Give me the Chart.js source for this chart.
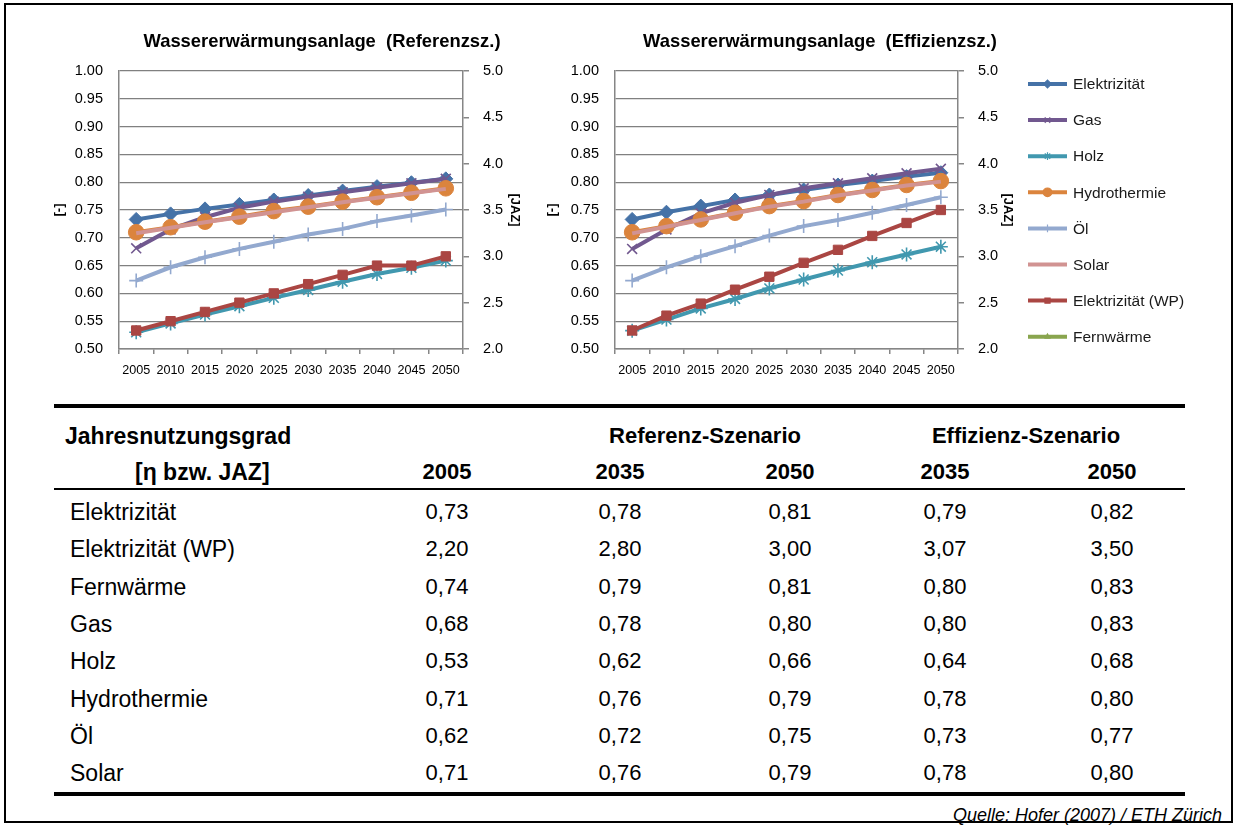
<!DOCTYPE html>
<html lang="de">
<head>
<meta charset="utf-8">
<title>Wassererwärmungsanlage – Jahresnutzungsgrad</title>
<script src="https://cdn.jsdelivr.net/npm/chart.js@4.4.1/dist/chart.umd.min.js"></script>
<style>
  html, body { margin: 0; padding: 0; background: #fff; }
  body {
    width: 1235px; height: 825px; position: relative; overflow: hidden;
    font-family: Arial, "Liberation Sans", sans-serif; color: #000;
  }
  .frame {
    position: absolute; left: 4px; top: 3px; right: 2px; bottom: 2px;
    border: 2px solid #000; box-sizing: border-box;
  }
  canvas { position: absolute; top: 0; }
  #refChart { left: 0; }
  #effChart { left: 520px; }
  .rule { position: absolute; left: 54px; width: 1131px; background: #000; }
  .cell { position: absolute; white-space: nowrap; line-height: 1; transform: translateY(-50%); }
  .head { font-weight: bold; font-size: 23px; }
  .val { font-size: 22px; width: 120px; text-align: center; }
  .yr { font-size: 22px; }
  .name { font-size: 23px; }
  .source {
    position: absolute; right: 13px; top: 805px; font-size: 18px; font-style: italic;
  }
</style>
</head>
<body>
<div class="frame"></div>
<canvas id="refChart" width="620" height="389"></canvas>
<canvas id="effChart" width="715" height="389"></canvas>
<div id="table"></div>
<div class="source">Quelle: Hofer (2007) / ETH Zürich</div>

<script>
// categories
const years = ['2005', '2010', '2015', '2020', '2025', '2030', '2035', '2040', '2045', '2050'];

const seriesNames = ['Elektrizität', 'Gas', 'Holz', 'Hydrothermie', 'Öl', 'Solar', 'Elektrizität (WP)', 'Fernwärme'];
const seriesColors = ['#4572A7', '#71588F', '#4198AF', '#DB843D', '#93A9CF', '#D19392', '#AA4643', '#89A54E'];
const seriesMarkers = ['rectRot', 'crossRot', 'star', 'circle', 'cross', 'circle', 'rect', 'triangle'];
const markerSizes = [7, 7, 7, 7.8, 7, 0, 6.6, 5];

// Referenz-Szenario, WP on the JAZ axis
const refElektrizitaet = [0.733, 0.743, 0.752, 0.760, 0.768, 0.776, 0.784, 0.792, 0.799, 0.806];
const refGas = [0.681, 0.715, 0.737, 0.754, 0.765, 0.774, 0.782, 0.790, 0.798, 0.806];
const refHolz = [0.530, 0.546, 0.562, 0.577, 0.592, 0.606, 0.621, 0.635, 0.646, 0.659];
const refHydrothermie = [0.710, 0.719, 0.729, 0.738, 0.748, 0.756, 0.765, 0.773, 0.781, 0.789];
const refOel = [0.623, 0.647, 0.665, 0.680, 0.693, 0.706, 0.716, 0.730, 0.740, 0.751];
const refSolar = [0.708, 0.718, 0.728, 0.737, 0.746, 0.755, 0.764, 0.772, 0.780, 0.788];
const refWP = [2.20, 2.30, 2.40, 2.50, 2.60, 2.70, 2.80, 2.90, 2.90, 3.00];
const refFernwaerme = [];

// Effizienz-Szenario (right chart)
const effElektrizitaet = [0.733, 0.746, 0.757, 0.768, 0.777, 0.786, 0.795, 0.802, 0.810, 0.817];
const effGas = [0.680, 0.715, 0.744, 0.763, 0.777, 0.789, 0.798, 0.807, 0.816, 0.824];
const effHolz = [0.533, 0.553, 0.573, 0.590, 0.609, 0.625, 0.641, 0.656, 0.670, 0.684];
const effHydrothermie = [0.710, 0.721, 0.733, 0.745, 0.757, 0.766, 0.777, 0.786, 0.795, 0.802];
const effOel = [0.623, 0.647, 0.667, 0.685, 0.704, 0.721, 0.732, 0.745, 0.759, 0.773];
const effSolar = [0.708, 0.720, 0.732, 0.744, 0.756, 0.765, 0.776, 0.785, 0.794, 0.801];
const effWP = [2.20, 2.36, 2.49, 2.64, 2.78, 2.93, 3.07, 3.22, 3.36, 3.50];
const effFernwaerme = [];

// axis ticks
const etaTicks = [0.50, 0.55, 0.60, 0.65, 0.70, 0.75, 0.80, 0.85, 0.90, 0.95, 1.00];
const jazTicks = [2.0, 2.5, 3.0, 3.5, 4.0, 4.5, 5.0];

// table
const tableRows = ['Elektrizität', 'Elektrizität (WP)', 'Fernwärme', 'Gas', 'Holz', 'Hydrothermie', 'Öl', 'Solar'];
const tableYears = ['2005', '2035', '2050', '2035', '2050'];
const val2005 = [0.73, 2.20, 0.74, 0.68, 0.53, 0.71, 0.62, 0.71];
const ref2035 = [0.78, 2.80, 0.79, 0.78, 0.62, 0.76, 0.72, 0.76];
const ref2050 = [0.81, 3.00, 0.81, 0.80, 0.66, 0.79, 0.75, 0.79];
const eff2035 = [0.79, 3.07, 0.80, 0.80, 0.64, 0.78, 0.73, 0.78];
const eff2050 = [0.82, 3.50, 0.83, 0.83, 0.68, 0.80, 0.77, 0.80];

const gridGray = '#808080';
const axisGray = '#868686';

Chart.defaults.font.family = 'Arial, "Liberation Sans", sans-serif';
Chart.defaults.color = '#000';

function buildDatasets(values) {
  return seriesNames.map((name, i) => ({
    label: name,
    data: values[i],
    yAxisID: name === 'Elektrizität (WP)' ? 'yJaz' : 'y',
    borderColor: seriesColors[i],
    backgroundColor: seriesColors[i],
    borderWidth: 4,
    tension: 0,
    pointStyle: seriesMarkers[i],
    pointRadius: markerSizes[i],
    pointHoverRadius: markerSizes[i],
    pointBorderColor: seriesColors[i],
    pointBackgroundColor: seriesColors[i],
    pointBorderWidth: ['crossRot', 'star', 'cross'].includes(seriesMarkers[i]) ? 1.6 : 1,
    order: seriesNames.length - i
  }));
}

// legend drawn as line + marker, like the office chart
const sideLegend = {
  id: 'sideLegend',
  afterDraw(chart) {
    const { ctx, chartArea } = chart;
    const x0 = chartArea.right + 70;
    ctx.save();
    chart.data.datasets.forEach((ds, i) => {
      const y = chartArea.top + 13 + i * 36.1;
      ctx.strokeStyle = ds.borderColor;
      ctx.fillStyle = ds.borderColor;
      ctx.lineWidth = 4;
      ctx.beginPath();
      ctx.moveTo(x0, y);
      ctx.lineTo(x0 + 39, y);
      ctx.stroke();
      if (ds.pointRadius > 0 && Chart.helpers && Chart.helpers.drawPoint) {
        ctx.lineWidth = 1.2;
        Chart.helpers.drawPoint(ctx, {
          pointStyle: ds.pointStyle, rotation: 0,
          radius: ds.pointRadius * 0.55, borderWidth: 1.2
        }, x0 + 19.5, y);
      }
      ctx.fillStyle = '#1a1a1a';
      ctx.font = '15.5px Arial, "Liberation Sans", sans-serif';
      ctx.textBaseline = 'middle';
      ctx.fillText(ds.label, x0 + 45, y + 1);
    });
    ctx.restore();
  }
};

function makeChart(id, title, values, geo, plugins) {
  return new Chart(document.getElementById(id), {
    type: 'line',
    data: { labels: years, datasets: buildDatasets(values) },
    plugins: plugins,
    options: {
      responsive: false,
      animation: false,
      layout: { padding: { left: geo.padL, right: geo.padR, top: 0, bottom: 0 } },
      plugins: {
        legend: { display: false },
        tooltip: { enabled: false },
        title: {
          display: true,
          text: title,
          color: '#000',
          font: { size: 18.4, weight: 'bold' },
          padding: { top: 31, bottom: 17.9 }
        }
      },
      scales: {
        x: {
          offset: true,
          grid: { offset: true, drawOnChartArea: false, drawTicks: true, tickLength: 5, color: axisGray, lineWidth: 1.5 },
          border: { color: axisGray, width: 1.5 },
          ticks: { color: '#000', font: { size: 12.6 }, padding: 9, maxRotation: 0, autoSkip: false },
          afterFit: s => { s.height = 40; }
        },
        y: {
          position: 'left',
          min: etaTicks[0],
          max: etaTicks[etaTicks.length - 1],
          afterBuildTicks: s => { s.ticks = etaTicks.map(v => ({ value: v })); },
          ticks: { color: '#000', font: { size: 14.5 }, padding: 16, callback: v => Number(v).toFixed(2) },
          grid: { color: gridGray, lineWidth: 1.2, drawTicks: false },
          border: { color: axisGray, width: 1.5 },
          title: { display: true, text: '[-]', color: '#000', font: { size: 13, weight: 'bold' }, padding: { top: geo.leftTitlePad, bottom: 0 } },
          afterFit: s => { s.width = geo.leftW; }
        },
        yJaz: {
          position: 'right',
          min: jazTicks[0],
          max: jazTicks[jazTicks.length - 1],
          afterBuildTicks: s => { s.ticks = jazTicks.map(v => ({ value: v })); },
          ticks: { color: '#000', font: { size: 14.5 }, padding: 14, callback: v => Number(v).toFixed(1) },
          grid: { drawOnChartArea: false, drawTicks: true, tickLength: 6, color: axisGray, lineWidth: 1.5 },
          border: { color: axisGray, width: 1.5 },
          title: { display: true, text: '[JAZ]', color: '#000', font: { size: 13, weight: 'bold' }, padding: { top: geo.rightTitlePad, bottom: 0 } },
          afterFit: s => { s.width = geo.rightW; }
        }
      }
    }
  });
}

window.addEventListener('DOMContentLoaded', () => {
  makeChart('refChart', 'Wassererwärmungsanlage  (Referenzsz.)',
    [refElektrizitaet, refGas, refHolz, refHydrothermie, refOel, refSolar, refWP, refFernwaerme],
    { padL: 40, padR: 16, leftW: 79, rightW: 141, leftTitlePad: 12, rightTitlePad: 82 }, []);

  makeChart('effChart', 'Wassererwärmungsanlage  (Effizienzsz.)',
    [effElektrizitaet, effGas, effHolz, effHydrothermie, effOel, effSolar, effWP, effFernwaerme],
    { padL: 15, padR: 130, leftW: 80, rightW: 147, leftTitlePad: 10, rightTitlePad: 90 }, [sideLegend]);

  // table below the charts
  const table = document.getElementById('table');
  const valueCenters = [447, 620, 790, 945, 1112];
  const columns = [val2005, ref2035, ref2050, eff2035, eff2050];
  const fmt = v => v.toFixed(2).replace('.', ',');
  const add = (cls, text, css) => {
    const el = document.createElement('div');
    el.className = cls;
    el.textContent = text;
    Object.assign(el.style, css);
    table.appendChild(el);
    return el;
  };

  add('rule', '', { top: '404px', height: '4px' });
  add('rule', '', { top: '488px', height: '2px' });
  add('rule', '', { top: '792px', height: '4px' });

  add('cell head', 'Jahresnutzungsgrad', { left: '65px', top: '436px' });
  add('cell head', '[η bzw. JAZ]', { left: '135px', top: '472px' });
  add('cell head val', 'Referenz-Szenario', { left: (705 - 130) + 'px', width: '260px', top: '436px' });
  add('cell head val', 'Effizienz-Szenario', { left: (1026 - 130) + 'px', width: '260px', top: '436px' });
  tableYears.forEach((yr, c) => {
    add('cell head val yr', yr, { left: (valueCenters[c] - 60) + 'px', top: '472px' });
  });

  tableRows.forEach((name, r) => {
    const y = 512 + r * 37.3;
    add('cell name', name, { left: '70px', top: y + 'px' });
    columns.forEach((col, c) => {
      add('cell val', fmt(col[r]), { left: (valueCenters[c] - 60) + 'px', top: y + 'px' });
    });
  });
});
</script>
</body>
</html>
